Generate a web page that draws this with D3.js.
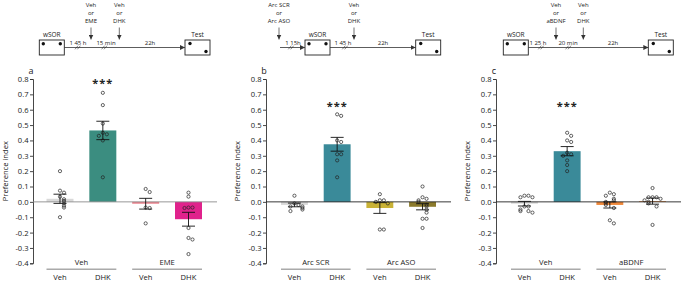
<!DOCTYPE html>
<html>
<head>
<meta charset="utf-8">
<script src="https://cdn.jsdelivr.net/npm/d3@7"></script>
<style>
  body { margin: 0; background: #fff; }
  svg { display: block; font-family: "Open Sans", sans-serif; }
</style>
</head>
<body>
<svg width="683" height="282"></svg>
<script>
// bar order inside every panel
const conditions = ['Veh', 'DHK', 'Veh', 'DHK'];
const yTicks = [-0.4, -0.3, -0.2, -0.1, 0, 0.1, 0.2, 0.3, 0.4, 0.5, 0.6, 0.7, 0.8];

// panel a
const groupsA = ['Veh', 'EME'];
const meansA = [0.02, 0.465, -0.012, -0.113];
const semA = [0.03, 0.06, 0.035, 0.045];
const pointsA = [
    [0.2, 0.073, 0.06, 0.034, 0.017, 0.006, -0.01, -0.025, -0.037, -0.1],
    [0.71, 0.63, 0.51, 0.45, 0.44, 0.43, 0.40, 0.16],
    [0.084, 0.064, -0.037, -0.04, -0.14],
    [0.06, 0.034, -0.037, -0.037, -0.04, -0.17, -0.235, -0.245, -0.34]
];

// panel b
const groupsB = ['Arc SCR', 'Arc ASO'];
const meansB = [-0.02, 0.375, -0.04, -0.032];
const semB = [0.012, 0.045, 0.035, 0.02];
const pointsB = [
    [0.04, -0.01, -0.02, -0.03, -0.03, -0.04, -0.05, -0.06],
    [0.57, 0.56, 0.40, 0.39, 0.31, 0.31, 0.27, 0.16],
    [0.05, 0.01, 0.01, 0.0, -0.01, -0.18, -0.18],
    [0.10, 0.03, 0.02, 0.01, 0.0, -0.02, -0.03, -0.05, -0.07, -0.11, -0.11, -0.17]
];

// panel c
const groupsC = ['Veh', 'aBDNF'];
const meansC = [-0.012, 0.33, -0.02, 0.005];
const semC = [0.015, 0.03, 0.02, 0.02];
const pointsC = [
    [0.04, 0.04, 0.03, 0.03, -0.03, -0.03, -0.05, -0.06, -0.06, -0.07],
    [0.45, 0.43, 0.40, 0.39, 0.32, 0.31, 0.30, 0.27, 0.24, 0.20],
    [0.06, 0.05, 0.04, 0.02, 0.01, 0.0, -0.01, -0.02, -0.04, -0.12, -0.14],
    [0.09, 0.03, 0.03, 0.03, 0.02, 0.01, 0.0, -0.01, -0.03, -0.15]
];

// height of the *** mark over the DHK bar
const sigY = [0.78, 0.63, 0.63];

const svg = d3.select('svg');

const yScale = d3.scaleLinear()
    .domain([-0.4, 0.8])
    .range([263.3, 79]);

const panels = [
    {
        letter: 'a', yLabel: 'Preference index', groups: groupsA, means: meansA, sem: semA, points: pointsA,
        colors: ['#d9d9d9', '#3b8d80', '#ec7f8a', '#e0228c'], zeroColor: '#8c8c8c',
        axisX: 33, barRange: [46.5, 202], zeroEnd: 217, labelX: 5, sig: sigY[0],
        schematic: {
            wsor: 39.3, test: 185, lineStart: null,
            breaks: [77.7, 104.3],
            times: [[78, '1 45 h'], [106, '15 min'], [150, '22h']],
            drugs: [[91, ['Veh', 'or', 'EME']], [119.3, ['Veh', 'or', 'DHK']]]
        }
    },
    {
        letter: 'b', yLabel: 'Preference Index', groups: groupsB, means: meansB, sem: semB, points: pointsB,
        colors: ['#d9d9d9', '#3a8a99', '#c9b236', '#8b7a2c'], zeroColor: '#222',
        axisX: 266, barRange: [281, 436], zeroEnd: 451, labelX: 237, sig: sigY[1],
        schematic: {
            wsor: 305, test: 415.7, lineStart: 279,
            breaks: [291, 345],
            times: [[293, '1 15h'], [343, '1 45 h'], [383, '22h']],
            drugs: [[279, ['Arc SCR', 'or', 'Arc ASO']], [354, ['Veh', 'or', 'DHK']]]
        }
    },
    {
        letter: 'c', yLabel: 'Preference Index', groups: groupsC, means: meansC, sem: semC, points: pointsC,
        colors: ['#d9d9d9', '#3a8a99', '#f0883a', '#f0883a'], zeroColor: '#222',
        axisX: 496, barRange: [511, 666], zeroEnd: 681, labelX: 467, sig: sigY[2],
        schematic: {
            wsor: 503.3, test: 648.3, lineStart: null,
            breaks: [541, 568.3],
            times: [[538, '1 25 h'], [568, '20 min'], [613, '22h']],
            drugs: [[556, ['Veh', 'or', 'aBDNF']], [583.3, ['Veh', 'or', 'DHK']]]
        }
    }
];

svg.append('defs').append('marker')
    .attr('id', 'arrow')
    .attr('viewBox', '0 0 10 10')
    .attr('refX', 10).attr('refY', 5)
    .attr('markerWidth', 5).attr('markerHeight', 5)
    .attr('markerUnits', 'userSpaceOnUse')
    .attr('orient', 'auto')
    .append('path')
    .attr('d', 'M0,0L10,5L0,10Z')
    .attr('fill', '#333');

// little spread so overlapping dots sit side by side
const spread = (vals) => {
    const placed = [];
    return vals.map(v => {
        const py = yScale(v);
        const k = placed.filter(p => Math.abs(p - py) < 3.2).length;
        placed.push(py);
        return k === 0 ? 0 : (k % 2 ? 1 : -1) * Math.ceil(k / 2) * 4;
    });
};

const drawSchematic = (g, s) => {
    const lineY = 47.5, boxW = 25, boxTop = 40, boxH = 15;
    const boxes = [[s.wsor, 'wSOR', [[4, 3.7], [21, 3.7]]], [s.test, 'Test', [[5, 3.5], [21, 11.5]]]];
    boxes.forEach(([x, name, dots]) => {
        g.append('rect')
            .attr('x', x).attr('y', boxTop).attr('width', boxW).attr('height', boxH)
            .attr('fill', '#fff').attr('stroke', '#222').attr('stroke-width', 0.9);
        dots.forEach(([dx, dy]) => g.append('circle')
            .attr('cx', x + dx).attr('cy', boxTop + dy).attr('r', 1.7).attr('fill', '#111'));
        g.append('text').attr('x', x + boxW / 2).attr('y', boxTop - 3)
            .attr('text-anchor', 'middle').attr('font-size', 6.5).attr('fill', '#222').text(name);
    });

    if (s.lineStart !== null) {
        g.append('line')
            .attr('x1', s.lineStart + 1).attr('x2', s.wsor).attr('y1', lineY).attr('y2', lineY)
            .attr('stroke', '#333').attr('stroke-width', 0.8).attr('marker-end', 'url(#arrow)');
    }
    g.append('line')
        .attr('x1', s.wsor + boxW).attr('x2', s.test).attr('y1', lineY).attr('y2', lineY)
        .attr('stroke', '#333').attr('stroke-width', 0.8).attr('marker-end', 'url(#arrow)');

    s.breaks.forEach(bx => {
        [-1.2, 1.2].forEach(o => g.append('line')
            .attr('x1', bx + o - 1.5).attr('x2', bx + o + 1.5)
            .attr('y1', lineY + 1.8).attr('y2', lineY - 1.8)
            .attr('stroke', '#333').attr('stroke-width', 0.6));
    });

    s.times.forEach(([x, t]) => g.append('text')
        .attr('x', x).attr('y', lineY - 3)
        .attr('text-anchor', 'middle').attr('font-size', 6).attr('fill', '#222').text(t));

    s.drugs.forEach(([x, lines]) => {
        g.append('line')
            .attr('x1', x).attr('x2', x).attr('y1', 27.5).attr('y2', 39.5)
            .attr('stroke', '#333').attr('stroke-width', 0.7).attr('marker-end', 'url(#arrow)');
        lines.forEach((t, i) => g.append('text')
            .attr('x', x).attr('y', 7.2 + i * 7.8)
            .attr('text-anchor', 'middle').attr('font-size', 6).attr('fill', '#222').text(t));
    });
};

const render = p => {
    const g = svg.append('g');

    drawSchematic(g, p.schematic);

    const xScale = d3.scaleBand()
        .domain(d3.range(conditions.length))
        .range(p.barRange)
        .paddingInner(0.37)
        .paddingOuter(0);
    const bw = xScale.bandwidth();
    const cx = i => xScale(i) + bw / 2;

    // y axis
    const yAxis = d3.axisLeft(yScale)
        .tickValues(yTicks)
        .tickSize(3)
        .tickPadding(1.5)
        .tickFormat(d => d3.format('.1f')(d).replace('−', '-'));
    const yAxisG = g.append('g')
        .attr('transform', `translate(${p.axisX},0)`)
        .call(yAxis);
    yAxisG.selectAll('path, line').attr('stroke', '#333').attr('stroke-width', 0.9);
    yAxisG.selectAll('text')
        .attr('font-size', 7.6)
        .attr('fill', '#222')
        .style('font-family', '"Open Sans", sans-serif');

    g.append('text')
        .attr('transform', `translate(${p.labelX},${(yScale(0.8) + yScale(-0.4)) / 2}) rotate(-90)`)
        .attr('text-anchor', 'middle')
        .attr('dominant-baseline', 'central')
        .attr('font-size', 7.6)
        .attr('fill', '#222')
        .text(p.yLabel);

    g.append('text')
        .attr('x', p.axisX - 2).attr('y', 73.5)
        .attr('text-anchor', 'middle')
        .attr('font-size', 9)
        .attr('fill', '#222')
        .text(p.letter);

    // bars
    g.selectAll('rect.bar')
        .data(p.means)
        .join('rect')
        .attr('class', 'bar')
        .attr('x', (d, i) => xScale(i))
        .attr('width', bw)
        .attr('y', d => yScale(Math.max(0, d)))
        .attr('height', d => Math.abs(yScale(d) - yScale(0)))
        .attr('fill', (d, i) => p.colors[i]);

    // zero line
    g.append('line')
        .attr('x1', p.axisX).attr('x2', p.zeroEnd)
        .attr('y1', yScale(0)).attr('y2', yScale(0))
        .attr('stroke', p.zeroColor).attr('stroke-width', 0.9);

    // dots
    p.points.forEach((vals, i) => {
        const offs = spread(vals);
        g.selectAll(null)
            .data(vals)
            .join('circle')
            .attr('cx', (d, j) => cx(i) + offs[j])
            .attr('cy', d => yScale(d))
            .attr('r', 1.6)
            .attr('fill', 'none')
            .attr('stroke', '#222')
            .attr('stroke-width', 0.7);
    });

    // error bars
    p.means.forEach((m, i) => {
        const e = p.sem[i];
        const eg = g.append('g').attr('stroke', '#111').attr('stroke-width', 0.9);
        eg.append('line').attr('x1', cx(i)).attr('x2', cx(i))
            .attr('y1', yScale(m - e)).attr('y2', yScale(m + e));
        [m - e, m + e].forEach(v => eg.append('line')
            .attr('x1', cx(i) - 6.5).attr('x2', cx(i) + 6.5)
            .attr('y1', yScale(v)).attr('y2', yScale(v)));
    });

    g.append('text')
        .attr('x', cx(1)).attr('y', yScale(p.sig) + 4.5)
        .attr('text-anchor', 'middle')
        .attr('font-size', 11)
        .attr('font-weight', 'bold')
        .attr('letter-spacing', 1)
        .attr('fill', '#222')
        .text('***');

    // group labels and underlines
    p.groups.forEach((name, k) => {
        const left = xScale(k * 2);
        const right = xScale(k * 2 + 1) + bw;
        g.append('line')
            .attr('x1', left).attr('x2', right)
            .attr('y1', 269.3).attr('y2', 269.3)
            .attr('stroke', '#aaa').attr('stroke-width', 1.4);
        g.append('text')
            .attr('x', (left + right) / 2).attr('y', 265)
            .attr('text-anchor', 'middle')
            .attr('font-size', 7.6)
            .attr('fill', '#222')
            .text(name);
    });

    conditions.forEach((c, i) => g.append('text')
        .attr('x', cx(i)).attr('y', 280.3)
        .attr('text-anchor', 'middle')
        .attr('font-size', 7.6)
        .attr('fill', '#222')
        .text(c));
};

panels.forEach(render);
</script>
</body>
</html>
